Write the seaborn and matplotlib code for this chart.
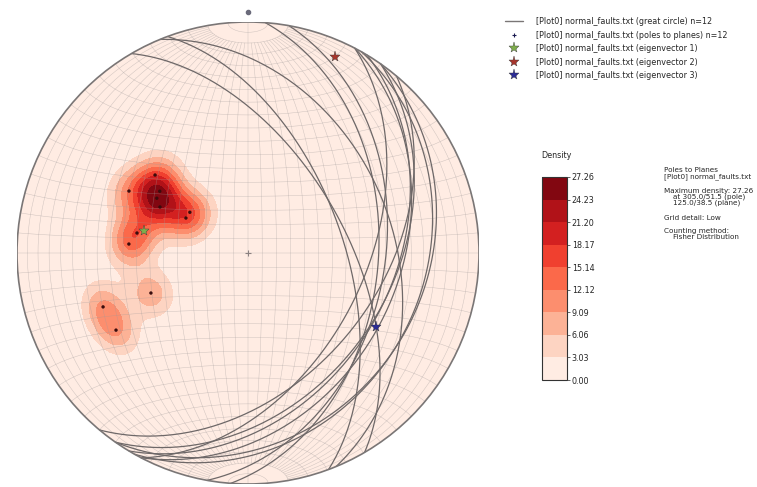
import numpy as np
import pandas as pd
import matplotlib
matplotlib.use("Agg")
import matplotlib.pyplot as plt
import seaborn as sns
from matplotlib.patches import Circle
from matplotlib.lines import Line2D

# ---------------- data ----------------
plane_dip_direction = [130.0, 117.5, 121.0, 117.6, 125.0, 119.4, 100.2, 94.3, 67.6, 69.6, 59.7, 125.0]
plane_dip = [43.6, 48.5, 38.0, 35.4, 25.1, 25.2, 40.4, 42.9, 37.5, 56.5, 55.8, 38.5]
eigen_trend = [282.0, 24.0, 120.0]
eigen_plunge = [52.0, 8.0, 36.0]
eigen_labels = ["[Plot0] normal_faults.txt (eigenvector 1)",
                "[Plot0] normal_faults.txt (eigenvector 2)",
                "[Plot0] normal_faults.txt (eigenvector 3)"]
eigen_colors = ["#7fae4c", "#a8352c", "#2c2c96"]
max_density = 27.26
n_levels = 10
fisher_k = 100.0

sns.set_style("white")
plt.rcParams['font.family'] = ['DejaVu Sans']
FS = 5.8


def line_vec(trend, plunge):
    t, p = np.radians(trend), np.radians(plunge)
    return np.array([np.cos(p) * np.sin(t), np.cos(p) * np.cos(t), np.sin(p)])


def project(v):
    E, N, D = v
    s = np.sqrt(1.0 + D)
    return E / s, N / s


fig = plt.figure(figsize=(7.57, 4.87), dpi=100)
W, H = 757.0, 487.0
cx, cy, R = 248.0, 253.0, 231.0
ax = fig.add_axes([(cx - R) / W, (H - cy - R) / H, 2 * R / W, 2 * R / H])
ax.set_xlim(-1, 1)
ax.set_ylim(-1, 1)
ax.set_aspect("equal")
ax.axis("off")

# ---------------- poles ----------------
poles = []
for dd, d in zip(plane_dip_direction, plane_dip):
    poles.append(line_vec((dd + 180.0) % 360.0, 90.0 - d))
poles = np.array(poles)
px, py = project(poles.T)

# ---------------- density (Fisher kernel) ----------------
g = np.linspace(-1.01, 1.01, 500)
GX, GY = np.meshgrid(g, g)
r2 = GX ** 2 + GY ** 2
inside = r2 <= 1.0
D = np.clip(1 - r2, 0, 1)
s = np.sqrt(1 + D)
V = np.stack([GX * s, GY * s, D], axis=-1)
V = V / np.linalg.norm(V, axis=-1, keepdims=True)
dots = np.abs(V @ poles.T)
dens = np.exp(fisher_k * (dots - 1)).sum(axis=-1)
dens = dens / dens[inside].max() * max_density
dens = np.clip(dens, 0, max_density)
levels = np.linspace(0, max_density, n_levels)
cf = ax.contourf(GX, GY, dens, levels=levels, cmap="Reds", zorder=1)
clip = Circle((0, 0), 1, transform=ax.transData)
cf.set_clip_path(clip)

# ---------------- Schmidt net grid ----------------
gc = "#a09a9a"
tm = np.radians(np.linspace(10, 170, 161))
for delta in range(5, 180, 5):
    dl = np.radians(delta)
    tt = np.radians(np.linspace(0, 180, 181)) if delta == 90 else tm
    v = np.array([np.sin(tt) * np.cos(dl), np.cos(tt), np.sin(tt) * np.sin(dl)])
    x, y = project(v)
    ax.plot(x, y, color=gc, lw=0.35, alpha=0.5, zorder=2)
t = np.linspace(0, np.pi, 181)
for beta in range(5, 180, 5):
    b = np.radians(beta)
    v = np.array([np.sin(b) * np.cos(t), np.full_like(t, np.cos(b)), np.sin(b) * np.sin(t)])
    x, y = project(v)
    ax.plot(x, y, color=gc, lw=0.35, alpha=0.5, zorder=2)

# ---------------- great circles ----------------
rows = []
for i, (dd, d) in enumerate(zip(plane_dip_direction, plane_dip)):
    st = np.radians(dd - 90.0)
    sv = np.array([np.sin(st), np.cos(st), 0.0])
    dv = line_vec(dd, d)
    for a in np.linspace(0, np.pi, 200):
        v = np.cos(a) * sv + np.sin(a) * dv
        if v[2] < 0:
            v = -v
        x, y = project(v)
        rows.append((i, a, x, y))
gcdf = pd.DataFrame(rows, columns=["plane", "a", "x", "y"])
sns.lineplot(data=gcdf, x="x", y="y", units="plane", estimator=None, sort=False,
             color="#6e6868", lw=0.9, ax=ax, legend=False, zorder=4)

# primitive
ax.add_patch(Circle((0, 0), 1, fill=False, ec="#7a7676", lw=1.2, zorder=5))
ax.plot([0], [0], marker="+", color="#8a8080", ms=5, mew=0.8, zorder=5)
ax.plot([0], [1.045], marker="o", color="#6a6a7a", ms=3, zorder=5, clip_on=False)

# pole points
pdf = pd.DataFrame({"x": px, "y": py})
sns.scatterplot(data=pdf, x="x", y="y", ax=ax, color="#3a0c0c", s=6, marker="o",
                edgecolor="none", zorder=6, legend=False)

# eigenvectors
for tr, pl, col in zip(eigen_trend, eigen_plunge, eigen_colors):
    ex, ey = project(line_vec(tr, pl))
    ax.plot([ex], [ey], marker="*", ls="", color=col, ms=8, mec="#3a3a3a", mew=0.3, zorder=7)
ax.set_xlabel("")
ax.set_ylabel("")

# ---------------- legend ----------------
handles = [Line2D([], [], color="#7a7676", lw=1.0),
           Line2D([], [], marker="+", ls="", color="#1a1a50", ms=3, mew=0.8)]
labels = ["[Plot0] normal_faults.txt (great circle) n=12",
          "[Plot0] normal_faults.txt (poles to planes) n=12"]
for lab, col in zip(eigen_labels, eigen_colors):
    handles.append(Line2D([], [], marker="*", ls="", color=col, ms=8, mec="#3a3a3a", mew=0.3))
    labels.append(lab)
fig.legend(handles, labels, loc="upper left", bbox_to_anchor=(502 / W, 1 - 14 / H),
           frameon=False, fontsize=FS, handlelength=2.2, labelspacing=0.55,
           handletextpad=1.6, borderaxespad=0)

# ---------------- colorbar ----------------
cax = fig.add_axes([542 / W, (H - 380) / H, 25 / W, 203 / H])
cb = fig.colorbar(cf, cax=cax, ticks=levels)
cb.ax.set_yticklabels([f"{v:.2f}" for v in levels], fontsize=FS)
cb.ax.tick_params(length=2, width=0.5, pad=1.5)
cb.outline.set_linewidth(0.8)
cb.outline.set_edgecolor("#333333")
fig.text(541 / W, 1 - 160 / H, "Density", fontsize=FS, ha="left", va="bottom")

FI = 5.2
info_blocks = [("Poles to Planes\n[Plot0] normal_faults.txt", 167),
               ("Maximum density: 27.26\n    at 305.0/51.5 (pole)\n    125.0/38.5 (plane)", 188),
               ("Grid detail: Low", 215),
               ("Counting method:\n    Fisher Distribution", 228)]
for txt, ytop in info_blocks:
    fig.text(664 / W, 1 - ytop / H, txt, fontsize=FI, ha="left", va="top", linespacing=0.95)

fig.savefig("out.png", dpi=100)
